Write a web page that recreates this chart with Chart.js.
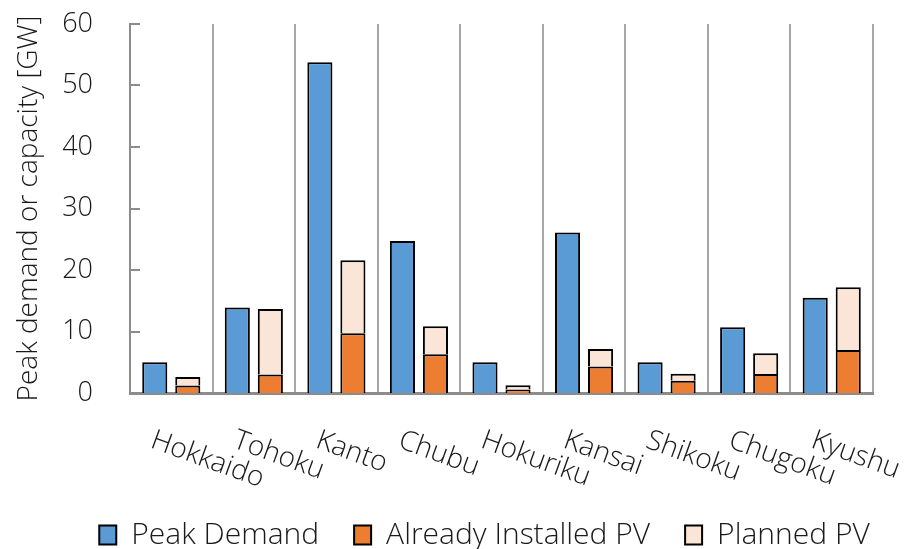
<!DOCTYPE html>
<html>
<head>
<meta charset="utf-8">
<script src="https://cdn.jsdelivr.net/npm/chart.js@4.4.1/dist/chart.umd.min.js"></script>
<style>
  html, body { margin: 0; padding: 0; background: #fff; }
  #wrap { width: 909px; height: 549px; }
</style>
</head>
<body>
<div id="wrap"><canvas id="chart" width="909" height="549"></canvas></div>
<script>
// regions and values in GW
const regions = ["Hokkaido", "Tohoku", "Kanto", "Chubu", "Hokuriku", "Kansai", "Shikoku", "Chugoku", "Kyushu"];
const peakDemand = [5.0, 13.9, 53.8, 24.7, 5.0, 26.1, 5.0, 10.7, 15.5];
const installedPV = [1.2, 3.0, 9.7, 6.3, 0.55, 4.3, 2.0, 3.1, 7.0];
const plannedPV = [1.4, 10.65, 11.9, 4.55, 0.7, 2.85, 1.15, 3.35, 10.2];
const yTicks = [0, 10, 20, 30, 40, 50, 60];

const FONT = "'Open Sans', 'Noto Sans', sans-serif";
const TEXT = "#1a1a1a";

// rotated category labels and inner tick marks on the value axis
const axisExtras = {
  id: "axisExtras",
  afterDraw(chart) {
    const ctx = chart.ctx;
    const x = chart.scales.x;
    const y = chart.scales.y;

    ctx.save();
    ctx.strokeStyle = "#8c8c8c";
    ctx.lineWidth = 2;
    y.ticks.forEach((t) => {
      const py = Math.round(y.getPixelForValue(t.value));
      ctx.beginPath();
      ctx.moveTo(x.left, py);
      ctx.lineTo(x.left + 10, py);
      ctx.stroke();
    });

    ctx.font = "300 28px " + FONT;
    ctx.fillStyle = TEXT;
    ctx.textAlign = "left";
    ctx.textBaseline = "alphabetic";
    regions.forEach((name, i) => {
      const px = x.getPixelForValue(i) - 22;
      ctx.save();
      ctx.translate(px, x.top + 54);
      ctx.rotate((20 * Math.PI) / 180);
      ctx.fillText(name, 0, 0);
      ctx.restore();
    });
    ctx.restore();
  },
};

new Chart(document.getElementById("chart"), {
  type: "bar",
  data: {
    labels: regions,
    datasets: [
      {
        label: "Peak Demand",
        data: peakDemand,
        stack: "demand",
        backgroundColor: "#5b9bd5",
        borderColor: "#000",
        borderWidth: 2,
      },
      {
        label: "Already Installed PV",
        data: installedPV,
        stack: "pv",
        backgroundColor: "#ed7d31",
        borderColor: "#000",
        borderWidth: 2,
      },
      {
        label: "Planned PV",
        data: plannedPV,
        stack: "pv",
        backgroundColor: "#fbe5d6",
        borderColor: "#000",
        borderWidth: 2,
      },
    ],
  },
  options: {
    responsive: false,
    animation: false,
    datasets: {
      bar: { categoryPercentage: 0.8, barPercentage: 0.76 },
    },
    layout: { padding: { top: 24, left: 60, right: 0, bottom: 0 } },
    plugins: {
      tooltip: { enabled: false },
      legend: {
        position: "bottom",
        maxHeight: 64,
        labels: {
          color: TEXT,
          font: { family: FONT, size: 30, weight: "300" },
          boxWidth: 17,
          boxHeight: 19,
          padding: 35,
        },
      },
    },
    scales: {
      x: {
        grid: {
          display: true,
          offset: true,
          color: "#a6a6a6",
          lineWidth: 2,
          drawTicks: false,
        },
        border: { display: true, color: "#8c8c8c", width: 3 },
        ticks: { display: false },
        afterFit: (s) => {
          s.height = 92;
        },
      },
      y: {
        stacked: true,
        min: 0,
        max: 60,
        afterBuildTicks: (s) => {
          s.ticks = yTicks.map((v) => ({ value: v }));
        },
        grid: { display: false },
        border: { display: true, color: "#8c8c8c", width: 2 },
        ticks: {
          color: TEXT,
          font: { family: FONT, size: 27, weight: "300" },
          padding: 29,
        },
        title: {
          display: true,
          text: "Peak demand or capacity [GW]",
          color: TEXT,
          font: { family: FONT, size: 28, weight: "300" },
          padding: { top: -48, bottom: 0 },
        },
        afterFit: (s) => {
          s.width = 70;
          s.paddingTop = 0;
          s.paddingBottom = 0;
        },
      },
      yRight: {
        position: "right",
        display: true,
        grid: { display: false },
        border: { display: false },
        ticks: { display: false },
        afterFit: (s) => {
          s.width = 36;
        },
      },
    },
  },
  plugins: [axisExtras],
});
</script>
</body>
</html>
